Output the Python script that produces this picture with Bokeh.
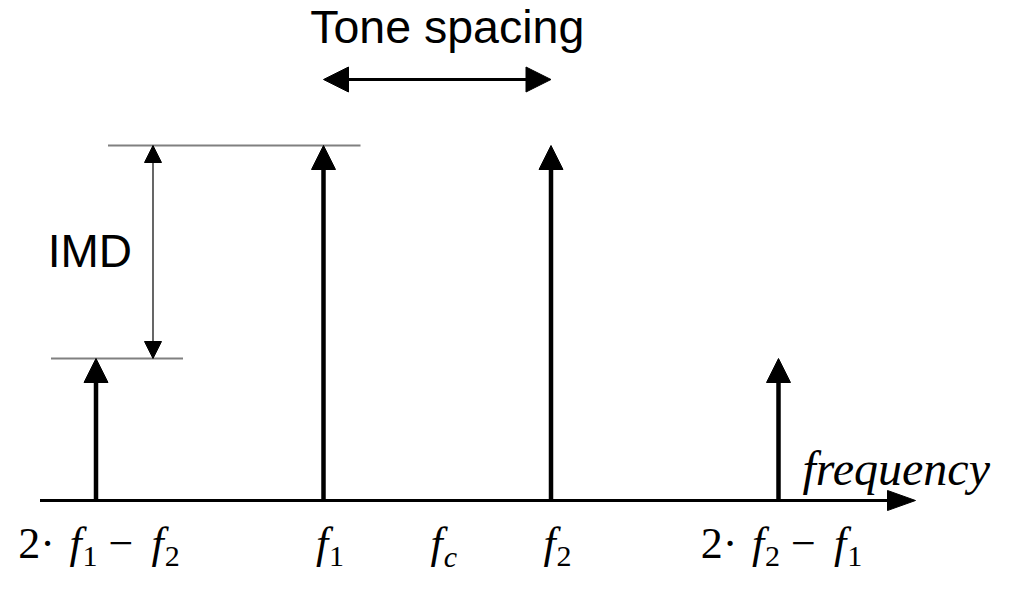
from bokeh.plotting import figure
from bokeh.models import Range1d, ColumnDataSource, Arrow, NormalHead
from bokeh.core.properties import value, field
from bokeh.embed import file_html
from bokeh.resources import INLINE

# ---------------- data ----------------
tone_positions = [-1, 0, 1, 2]          # in units of tone spacing, f1 = 0
tone_levels = [0.4, 1.0, 1.0, 0.4]      # relative amplitude
tick_positions = [-1, 0, 0.5, 1, 2]
tick_labels = ["2· f_1 − f_2", "f_1", "f_c", "f_2", "2· f_2 − f_1"]
axis_label = "frequency"
imd_label = "IMD"
spacing_label = "Tone spacing"

# ---------------- geometry ----------------
W, H = 993, 576
PXX = 227.5   # px per tone spacing
PXY = 355.0   # px per unit amplitude
X0 = 323      # canvas px to x = 0
Y0 = 500      # canvas px (from top) to y = 0
BASELINE_FIX = 0.38   # em: svg text sits lower than the alphabetic baseline


def dx(px):
    return px / PXX


def dy(px):
    return px / PXY


def yoff(px, fs):
    return px - BASELINE_FIX * fs


p = figure(width=W, height=H,
           x_range=Range1d(-X0 / PXX, (W - X0) / PXX),
           y_range=Range1d(-(H - Y0) / PXY, Y0 / PXY),
           x_axis_type=None, y_axis_type=None,
           output_backend="svg", toolbar_location=None,
           min_border=0, background_fill_color="white",
           border_fill_color="white")
p.grid.visible = False
p.outline_line_color = None

# ---------------- frequency axis ----------------
ax_start = tone_positions[0] - dx(56)
ax_tip = tone_positions[-1] + dx(137)
head_len = dx(28)
head_half = dy(10)
p.line([ax_start, ax_tip - head_len + dx(2)], [0, 0], line_color="black", line_width=3)
p.patch([ax_tip - head_len, ax_tip, ax_tip - head_len],
        [head_half, 0, -head_half], fill_color="black", line_color="black", line_width=1)

# ---------------- gray reference lines ----------------
top = max(tone_levels)
low = min(tone_levels)
p.segment(x0=[tone_positions[0] + dx(12), tone_positions[0] - dx(45)],
          y0=[top, low],
          x1=[tone_positions[1] + dx(37), tone_positions[0] + dx(87)],
          y1=[top, low], line_color="#808080", line_width=2)

# ---------------- tone arrows ----------------
tsrc = ColumnDataSource(dict(x0=tone_positions, y0=[0] * len(tone_positions),
                             x1=tone_positions, y1=tone_levels))
p.add_layout(Arrow(end=NormalHead(size=24, fill_color="black", line_color="black", line_width=1),
                   source=tsrc, x_start="x0", y_start="y0", x_end="x1", y_end="y1",
                   line_color="black", line_width=4.5))

# ---------------- IMD dimension arrow ----------------
imd_x = tone_positions[0] + dx(57)
p.add_layout(Arrow(start=NormalHead(size=17, fill_color="black", line_color="black", line_width=1),
                   end=NormalHead(size=17, fill_color="black", line_color="black", line_width=1),
                   x_start=imd_x, y_start=low, x_end=imd_x, y_end=top,
                   line_color="black", line_width=1.2))
p.text(x=[imd_x - dx(21)], y=[(low + top) / 2], text=[imd_label],
       text_font=value("Liberation Sans"), text_font_size="46px",
       text_align="right", text_baseline="alphabetic", y_offset=yoff(16, 46),
       text_color="black")

# ---------------- tone spacing arrow ----------------
sp_y = top + dy(66)
p.add_layout(Arrow(start=NormalHead(size=25, fill_color="black", line_color="black", line_width=1),
                   end=NormalHead(size=25, fill_color="black", line_color="black", line_width=1),
                   x_start=tone_positions[1], y_start=sp_y,
                   x_end=tone_positions[2], y_end=sp_y,
                   line_color="black", line_width=3))
p.text(x=[(tone_positions[1] + tone_positions[2]) / 2], y=[sp_y],
       text=[spacing_label], text_font=value("Liberation Sans"), text_font_size="46.5px",
       text_align="center", text_baseline="alphabetic", x_offset=10,
       y_offset=yoff(-35, 46.5), text_color="black")

# ---------------- axis label ----------------
p.text(x=[tone_positions[-1]], y=[0], text=[axis_label],
       text_font=value("Liberation Serif"), text_font_size="48px",
       text_font_style="italic", text_align="left", text_baseline="alphabetic",
       x_offset=24, y_offset=yoff(-14, 48), text_color="black")

# ---------------- tick labels (math-like runs) ----------------
FS = 44.0
FS_SUB = 30.0
BASE = 60      # px below axis line for label baseline
SUB_DROP = 7
W_EM = {"2": 0.5, "1": 0.5, "·": 0.25, "−": 0.564, " ": 0.25, "f": 0.30, "c": 0.444}
PRE_EM = {"f": 0.16}


def layout(label):
    chars = []
    i = 0
    while i < len(label):
        ch = label[i]
        if ch == "_":
            chars.append((label[i + 1], True))
            i += 2
        else:
            chars.append((ch, False))
            i += 1
    runs = []
    pos = 0.0
    prev_space = True
    for ch, sub in chars:
        size = FS_SUB if sub else FS
        if ch == " ":
            pos += W_EM[" "] * size
            prev_space = True
            continue
        italic = ch.isalpha()
        if italic:
            pos += PRE_EM.get(ch, 0.0) * size
        style = "italic" if italic else "normal"
        if (runs and not prev_space and runs[-1]["sub"] == sub
                and runs[-1]["style"] == style and ch != "f"):
            runs[-1]["text"] += ch
        else:
            runs.append(dict(text=ch, sub=sub, style=style, x=pos))
        pos += W_EM.get(ch, 0.5) * size
        prev_space = False
    return runs, pos


lx, ly, lt, lxo, lyo, lfs, lst = [], [], [], [], [], [], []
for xp, lab in zip(tick_positions, tick_labels):
    runs, total = layout(lab)
    for r in runs:
        size = FS_SUB if r["sub"] else FS
        lx.append(xp)
        ly.append(0)
        lt.append(r["text"])
        lxo.append(r["x"] - total / 2 + 3)
        lyo.append(yoff(BASE + (SUB_DROP if r["sub"] else 0), size))
        lfs.append("%dpx" % size)
        lst.append(r["style"])

lsrc = ColumnDataSource(dict(x=lx, y=ly, text=lt, xo=lxo, yo=lyo, fs=lfs, st=lst))
p.text(x="x", y="y", text="text", x_offset="xo", y_offset="yo", source=lsrc,
       text_font=value("Liberation Serif"), text_font_size=field("fs"),
       text_font_style=field("st"), text_align="left", text_baseline="alphabetic",
       text_color="black")

open("out.html", "w").write(file_html(p, INLINE))
